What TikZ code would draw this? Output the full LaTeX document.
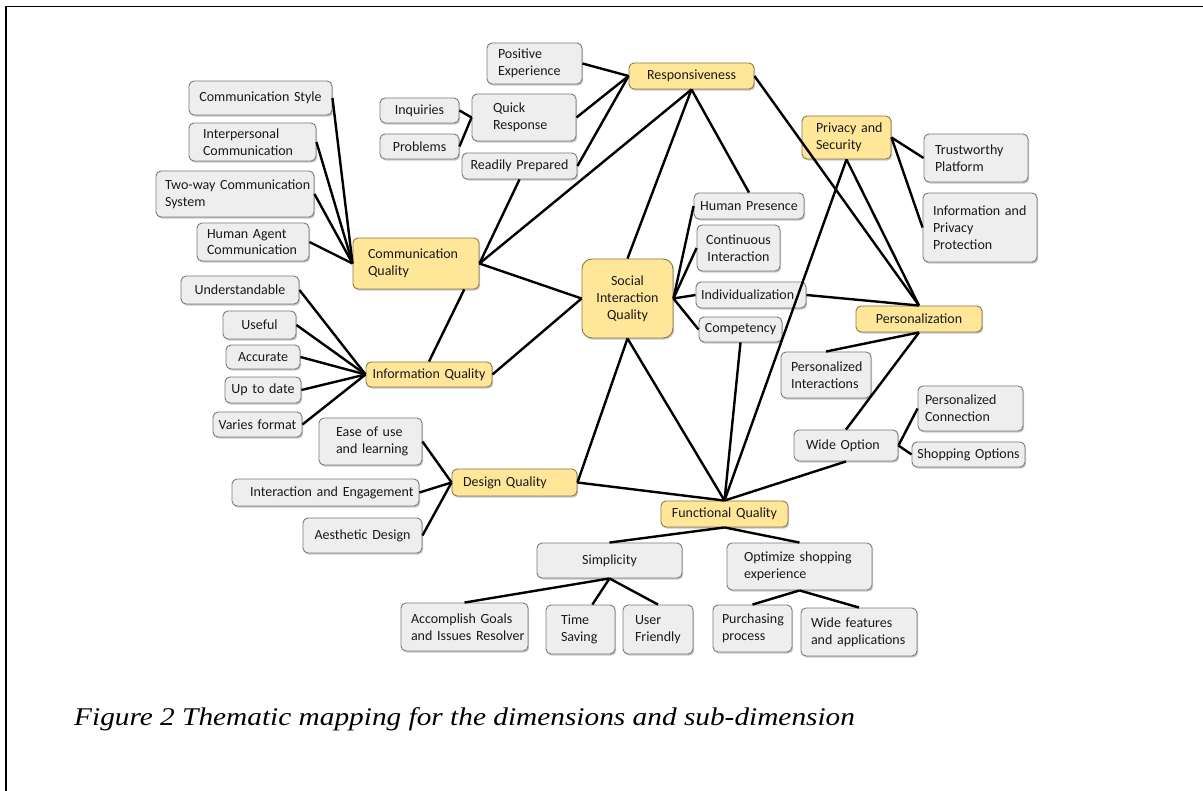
\documentclass[tikz,border=0pt]{standalone}
\usepackage{graphicx}
\usepackage{fontspec}
\setmainfont{Carlito}
\newfontfamily\capfont{Liberation Serif}
\usetikzlibrary{shadows,calc}
\definecolor{yfill}{HTML}{FFE699}
\definecolor{yline}{HTML}{8C7A45}
\definecolor{gfill}{HTML}{EEEEEE}
\definecolor{gline}{HTML}{7A7A7A}
\definecolor{txt}{HTML}{1A1A1A}
\tikzset{
  box/.style={rounded corners=5pt, line width=0.9pt, text=txt,
    font=\fontsize{14}{16.8}\selectfont,
    drop shadow={shadow xshift=1.2pt, shadow yshift=-1.6pt, fill=black, opacity=0.22}},
  gb/.style={box, fill=gfill, draw=gline},
  yb/.style={box, fill=yfill, draw=yline},
  L/.style={align=left},
  C/.style={align=center},
  conn/.style={line width=2.4pt, draw=black}
}
% #1 style, #2 name, #3 x1, #4 y1, #5 x2, #6 y2, #7 left pad, #8 text
\newcommand{\bx}[8]{%
  \pgfmathsetmacro{\bcx}{(#3+#5)/2}%
  \pgfmathsetmacro{\bcy}{(#4+#6)/2}%
  \pgfmathsetmacro{\bw}{#5-#3}%
  \pgfmathsetmacro{\bh}{#6-#4}%
  \pgfmathsetmacro{\btw}{#5-#3-2*#7}%
  \node[#1, minimum width=\bw pt, minimum height=\bh pt, text width=\btw pt,
        inner xsep=#7pt, inner ysep=0pt] (#2) at (\bcx,\bcy) {#8};}
\begin{document}
\begin{tikzpicture}[x=1pt,y=-1pt]
\useasboundingbox (0,0) rectangle (1203,791);
\fill[white] (0,0) rectangle (1203,791);
\draw[line width=1.3pt] (6,791) -- (6,6.5) -- (1203,6.5);

% communication quality cluster
\bx{gb,C}{cstyle}{189}{81}{332}{115}{3}{Communication Style}
\bx{gb,L}{interp}{189}{123}{316}{161}{14}{\mbox{Interpersonal}\\\mbox{Communication}}
\bx{gb,L}{twoway}{156}{171}{314}{217}{9}{\mbox{Two-way Communication}\\\mbox{System}}
\bx{gb,L}{hagent}{197}{223}{309}{261}{10}{\mbox{Human Agent}\\\mbox{Communication}}
\bx{yb,L}{cq}{353}{238}{479}{289}{15}{\mbox{Communication}\\\mbox{Quality}}

% responsiveness cluster
\bx{gb,L}{posexp}{487}{43}{582}{84}{11}{\mbox{Positive}\\\mbox{Experience}}
\bx{gb,C}{inq}{380}{98}{459}{123}{3}{Inquiries}
\bx{gb,C}{prob}{380}{134}{459}{159}{3}{Problems}
\bx{gb,L}{quick}{472}{94}{576}{141}{21}{\mbox{Quick}\\\mbox{Response}}
\bx{gb,C}{ready}{462}{153}{577}{179}{3}{Readily Prepared}
\bx{yb,C}{resp}{629}{63}{754}{89}{3}{Responsiveness}

% privacy
\bx{yb,L}{ps}{802}{116}{891}{159}{14}{\mbox{Privacy and}\\\mbox{Security}}
\bx{gb,L}{trust}{924}{134}{1028}{182}{11}{\mbox{Trustworthy}\\\mbox{Platform}}
\bx{gb,L}{infopriv}{923}{193}{1037}{262}{10}{\mbox{Information and}\\\mbox{Privacy}\\\mbox{Protection}}

% social interaction
\bx{gb,C}{hp}{694}{193}{804}{219}{3}{Human Presence}
\bx{gb,C}{contint}{697}{225}{780}{271}{3}{\mbox{Continuous}\\\mbox{Interaction}}
\bx{gb,L}{indiv}{696}{282}{806}{308}{5}{Individualization}
\bx{gb,C}{comp}{699}{317}{782}{342}{3}{Competency}
\bx{yb,C,rounded corners=10pt}{siq}{582}{259}{673}{338}{3}{\mbox{Social}\\\mbox{Interaction}\\\mbox{Quality}}

% personalization
\bx{yb,C}{pers}{856}{306}{982}{332}{3}{Personalization}
\bx{gb,L}{persint}{781}{352}{871}{398}{10}{\mbox{Personalized}\\\mbox{Interactions}}
\bx{gb,L}{wide}{794}{430}{898}{461}{12}{Wide Option}
\bx{gb,L}{pconn}{918}{386}{1023}{431}{7}{\mbox{Personalized}\\\mbox{Connection}}
\bx{gb,C}{shop}{912}{442}{1025}{467}{3}{Shopping Options}

% information quality
\bx{gb,C}{und}{181}{276}{299}{304}{3}{Understandable}
\bx{gb,C}{useful}{223}{311}{296}{339}{3}{Useful}
\bx{gb,C}{accur}{226}{345}{300}{369}{3}{Accurate}
\bx{gb,C}{uptd}{225}{377}{301}{403}{3}{Up to date}
\bx{gb,C}{varies}{213}{412}{302}{437}{3}{Varies format}
\bx{yb,C}{iq}{366}{362}{492}{387}{3}{Information Quality}

% design quality
\bx{gb,L}{ease}{319}{418}{422}{465}{17}{\mbox{Ease of use}\\\mbox{and learning}}
\bx{gb,L}{inter}{232}{479}{419}{506}{18}{\mbox{Interaction and Engagement}}
\bx{gb,C}{aest}{303}{518}{422}{553}{3}{Aesthetic Design}
\bx{yb,L}{dq}{452}{469}{577}{496}{11}{Design Quality}

% functional quality
\bx{yb,C}{fq}{661}{501}{788}{527}{3}{Functional Quality}
\bx{gb,C}{simp}{537}{543}{682}{578}{3}{Simplicity}
\bx{gb,L}{opt}{727}{543}{872}{590}{17}{\mbox{Optimize shopping}\\\mbox{experience}}
\bx{gb,L}{accomp}{401}{603}{528}{651}{10}{\mbox{Accomplish Goals}\\\mbox{and Issues Resolver}}
\bx{gb,L}{tsave}{546}{605}{615}{654}{15}{\mbox{Time}\\\mbox{Saving}}
\bx{gb,L}{ufri}{623}{605}{693}{654}{12}{\mbox{User}\\\mbox{Friendly}}
\bx{gb,L}{purch}{713}{605}{792}{652}{9}{\mbox{Purchasing}\\\mbox{process}}
\bx{gb,L}{widef}{801}{608}{917}{656}{10}{\mbox{Wide features}\\\mbox{and applications}}

% connectors
\foreach \n in {cstyle,interp,twoway,hagent} \draw[conn] (\n.east) -- (cq.west);
\draw[conn] (cq.east) -- (siq.west);
\draw[conn] (resp.south) -- (cq.east);
\draw[conn] (ready.south) -- (cq.east);
\foreach \n in {posexp,quick,ready} \draw[conn] (resp.west) -- (\n.east);
\foreach \n in {inq,prob} \draw[conn] (\n.east) -- (quick.west);
\draw[conn] (resp.south) -- (siq.north);
\draw[conn] (resp.south) -- (hp.north);
\foreach \n in {hp,contint,indiv,comp} \draw[conn] (siq.east) -- (\n.west);
\draw[conn] ($(cq.south west)!0.88!(cq.south east)$) -- (iq.north);
\draw[conn] (iq.east) -- (siq.west);
\foreach \n in {und,useful,accur,uptd,varies} \draw[conn] (\n.east) -- (iq.west);
\foreach \n in {ease,inter,aest} \draw[conn] (\n.east) -- (dq.west);
\draw[conn] (dq.east) -- (siq.south);
\draw[conn] (dq.east) -- (fq.north);
\draw[conn] (siq.south) -- (fq.north);
\draw[conn] (comp.south) -- (fq.north);
\draw[conn] (ps.south) -- (fq.north);
\draw[conn] (ps.south) -- (pers.north);
\draw[conn] (resp.east) -- (pers.north);
\draw[conn] (indiv.east) -- (pers.north);
\draw[conn] (ps.east) -- (trust.west);
\draw[conn] (ps.east) -- (infopriv.west);
\draw[conn] (pers.south) -- (persint.north);
\draw[conn] (pers.south) -- (wide.north);
\draw[conn] (wide.east) -- (pconn.west);
\draw[conn] (wide.east) -- (shop.west);
\draw[conn] (wide.south) -- (fq.north);
\draw[conn] (fq.south) -- (simp.north);
\draw[conn] (fq.south) -- (opt.north);
\draw[conn] (simp.south) -- (accomp.north);
\draw[conn] (simp.south) -- ($(tsave.north west)!0.67!(tsave.north east)$);
\draw[conn] (simp.south) -- (ufri.north);
\draw[conn] (opt.south) -- (purch.north);
\draw[conn] (opt.south) -- (widef.north);

% caption
\node[anchor=base west, inner sep=0pt, font=\capfont\itshape\fontsize{25.5}{30}\selectfont] (cap) at (74,725)
  {\scalebox{1.15}[1]{Figure 2 Thematic mapping for the dimensions and sub-dimension}};
\end{tikzpicture}
\end{document}
